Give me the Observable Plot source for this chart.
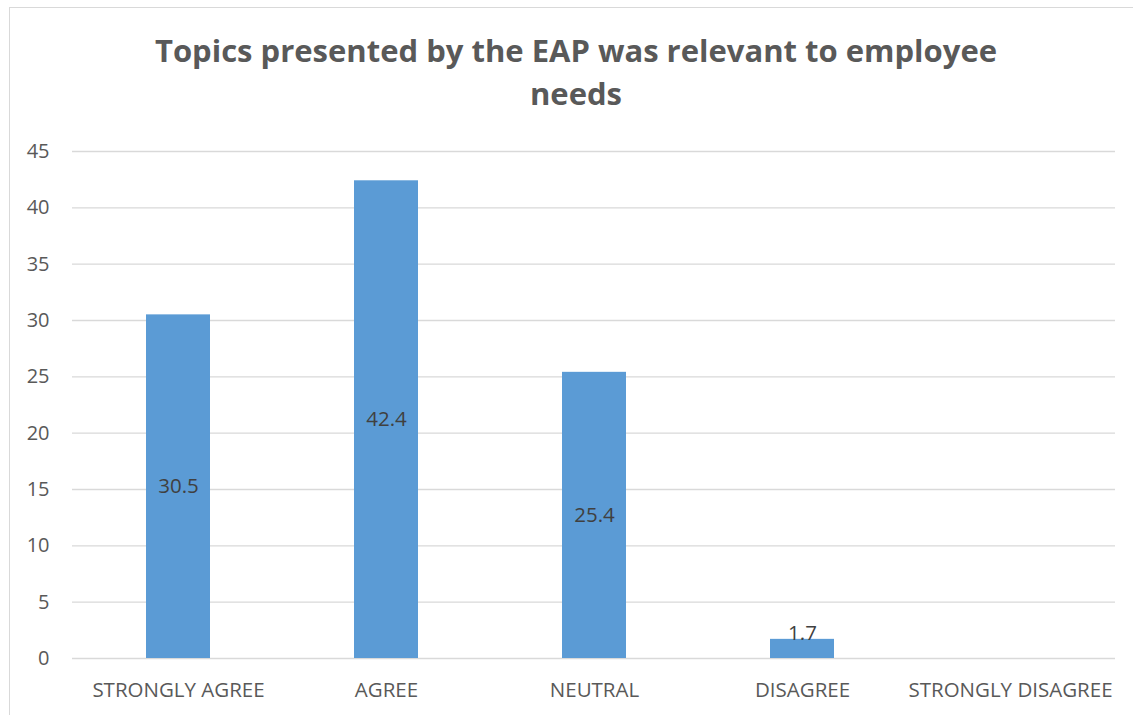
<!DOCTYPE html>
<html>
<head>
<meta charset="utf-8">
<script src="https://cdn.jsdelivr.net/npm/d3@7"></script>
<script src="https://cdn.jsdelivr.net/npm/@observablehq/plot@0.6"></script>
<style>
  html, body { margin: 0; padding: 0; background: #fff; overflow: hidden; }
  body { width: 1133px; height: 715px; position: relative; font-family: "Open Sans", sans-serif; }
  #frame { position: absolute; left: 9px; top: 7px; width: 1150px; height: 730px;
           border: 1.5px solid #d9d9d9; box-sizing: border-box; }
  #title { position: absolute; left: 0; top: 29px; width: 1152px; text-align: center;
           font-weight: 700; font-size: 31px; line-height: 43px; color: #595959; }
  #chart { position: absolute; left: 0; top: 130px; }
</style>
</head>
<body>
<div id="frame"></div>
<div id="title">Topics presented by the EAP was relevant to employee<br>needs</div>
<div id="chart"></div>
<script>
const categories = ["STRONGLY AGREE", "AGREE", "NEUTRAL", "DISAGREE", "STRONGLY DISAGREE"];
const percentages = [30.5, 42.4, 25.4, 1.7, 0];
const yTicks = [0, 5, 10, 15, 20, 25, 30, 35, 40, 45];

const rows = categories.map((c, i) => ({category: c, value: percentages[i]}));
const labelled = rows.filter(d => d.value > 0);
const tall = labelled.filter(d => d.value >= 5);
const short = labelled.filter(d => d.value < 5);

const chart = Plot.plot({
  width: 1133,
  height: 585,
  marginLeft: 72,
  marginRight: 18,
  marginTop: 21,
  marginBottom: 57,
  style: {fontFamily: "Open Sans, sans-serif", fontSize: "20px", color: "#595959", background: "transparent"},
  x: {domain: categories, padding: 0, label: null},
  y: {domain: [0, 45], label: null},
  marks: [
    Plot.gridY(yTicks, {stroke: "#d9d9d9", strokeOpacity: 1, strokeWidth: 1.3}),
    Plot.barY(rows, {x: "category", y: "value", fill: "#5b9bd5", insetLeft: 72, insetRight: 72}),
    Plot.axisY({ticks: yTicks, tickSize: 0, tickPadding: 23, fill: "#595959", fontSize: 20}),
    Plot.axisX({tickSize: 0, tickPadding: 24, fill: "#595959", fontSize: 20.5}),
    Plot.text(tall, {x: "category", y: d => d.value / 2, text: d => d.value.toFixed(1), fill: "#404040", fontSize: 20.5}),
    Plot.text(short, {x: "category", y: "value", text: d => d.value.toFixed(1), fill: "#404040", fontSize: 20.5, dy: -6})
  ]
});
document.getElementById("chart").append(chart);
</script>
</body>
</html>
